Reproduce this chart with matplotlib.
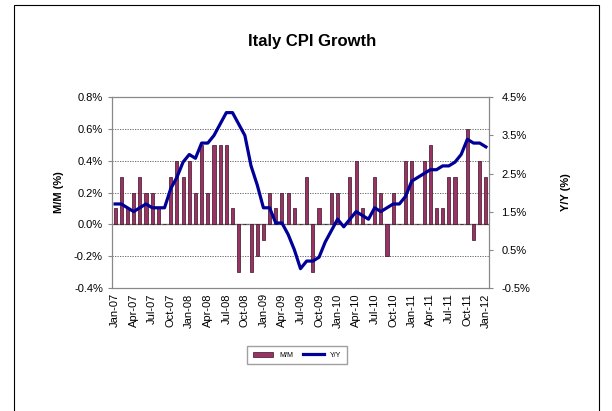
import matplotlib.pyplot as plt
import matplotlib.patches as patches
import pandas as pd

plt.rcParams['font.family'] = ['Liberation Sans', 'DejaVu Sans']

# monthly data, Jan-07 .. Jan-12
months = pd.date_range('2007-01-01', periods=61, freq='MS').strftime('%b-%y').tolist()

mm = [0.1, 0.3, 0.1, 0.2, 0.3, 0.2, 0.2, 0.1, 0.0, 0.3, 0.4, 0.3,
      0.4, 0.2, 0.5, 0.2, 0.5, 0.5, 0.5, 0.1, -0.3, 0.0, -0.3, -0.2,
      -0.1, 0.2, 0.1, 0.2, 0.2, 0.1, 0.0, 0.3, -0.3, 0.1, 0.0, 0.2,
      0.2, 0.0, 0.3, 0.4, 0.1, 0.0, 0.3, 0.2, -0.2, 0.2, 0.0, 0.4,
      0.4, 0.0, 0.4, 0.5, 0.1, 0.1, 0.3, 0.3, 0.0, 0.6, -0.1, 0.4,
      0.3]

yy = [1.7, 1.7, 1.6, 1.5, 1.6, 1.7, 1.6, 1.6, 1.6, 2.1, 2.4, 2.8,
      3.0, 2.9, 3.3, 3.3, 3.5, 3.8, 4.1, 4.1, 3.8, 3.5, 2.7, 2.2,
      1.6, 1.6, 1.2, 1.2, 0.9, 0.5, 0.0, 0.2, 0.2, 0.3, 0.7, 1.0,
      1.3, 1.1, 1.3, 1.5, 1.4, 1.3, 1.6, 1.5, 1.6, 1.7, 1.7, 1.9,
      2.3, 2.4, 2.5, 2.6, 2.6, 2.7, 2.7, 2.8, 3.0, 3.4, 3.3, 3.3,
      3.2]

left_ticks = [-0.4, -0.2, 0.0, 0.2, 0.4, 0.6, 0.8]
right_ticks = [-0.5, 0.5, 1.5, 2.5, 3.5, 4.5]

fig = plt.figure(figsize=(6.12, 4.11), dpi=100)
ax = fig.add_axes([0.183, 0.3, 0.616, 0.463])
x = list(range(len(months)))

# bars on the left axis
bars = ax.bar(x, mm, width=0.5, color='#993366', edgecolor='#3a1020', linewidth=0.5, label='M/M', zorder=2)
ax.set_ylim(-0.4, 0.8)
ax.set_yticks(left_ticks)
ax.set_yticklabels(['%.1f%%' % t for t in left_ticks], fontsize=8)
ax.yaxis.grid(True, linestyle=(0, (1.5, 1.5)), color='#555555', linewidth=0.6, zorder=0)
ax.axhline(0, color='#888888', linewidth=1, zorder=1)
ax.set_xlim(-0.5, len(months) - 0.5)
ax.set_xticks(x[::3])
ax.set_xticklabels(months[::3], rotation=90, fontsize=8)
ax.tick_params(axis='x', length=0, pad=4)
ax.tick_params(axis='y', length=3, color='#888888')
ax.set_ylabel('M/M (%)', fontsize=8, fontweight='bold', labelpad=7)
for s in ax.spines.values():
    s.set_color('#888888')

# line on the right axis
ax2 = ax.twinx()
line, = ax2.plot(x, yy, color='#000099', linewidth=2.3, label='Y/Y', zorder=3)
ax2.set_ylim(-0.5, 4.5)
ax2.set_yticks(right_ticks)
ax2.set_yticklabels(['%.1f%%' % t for t in right_ticks], fontsize=8)
ax2.tick_params(axis='y', length=3, color='#888888', pad=6)
ax2.set_ylabel('Y/Y (%)', fontsize=8, fontweight='bold', labelpad=22)
for s in ax2.spines.values():
    s.set_color('#888888')

fig.text(0.51, 0.9, 'Italy CPI Growth', ha='center', va='center', fontsize=12, fontweight='bold')

leg = fig.legend([bars, line], ['M/M', 'Y/Y'], loc='center', bbox_to_anchor=(0.485, 0.136),
                 ncol=2, fontsize=5, frameon=True, fancybox=False, edgecolor='#888888',
                 handlelength=3, columnspacing=1.5, borderpad=0.8)

# outer border
fig.patches.append(patches.Rectangle((0.023, -0.01), 0.955, 0.998, transform=fig.transFigure,
                                     fill=False, edgecolor='black', linewidth=0.8))

fig.savefig('out.png', dpi=100)
